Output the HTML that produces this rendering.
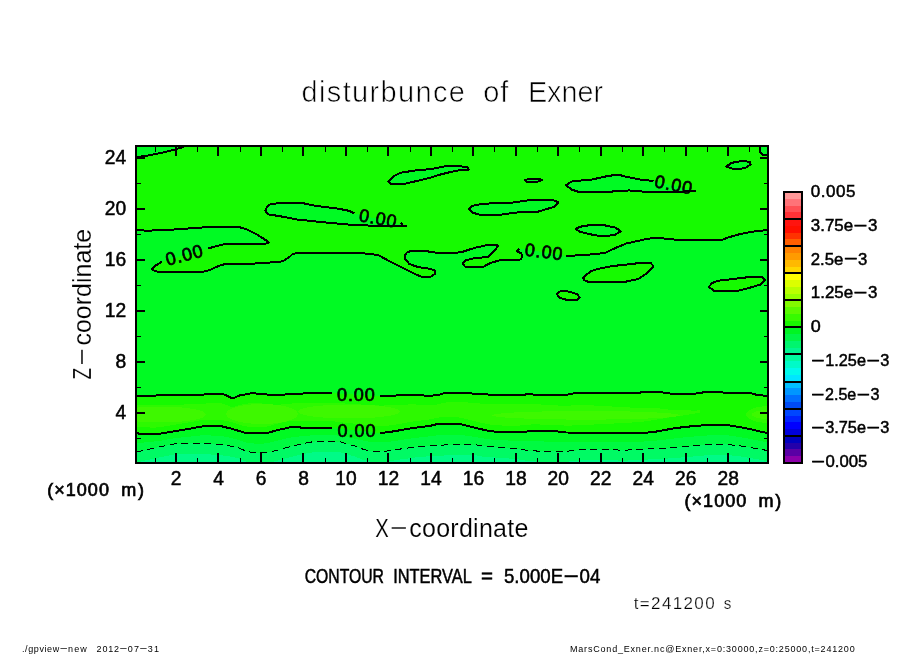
<!DOCTYPE html>
<html lang="en"><head><meta charset="utf-8"><title>disturbunce of Exner</title>
<style>
html,body{margin:0;padding:0;background:#fff;}
body{width:904px;height:654px;position:relative;overflow:hidden;font-family:"Liberation Sans",Arial,sans-serif;}
</style></head><body>
<svg width="904" height="654" viewBox="0 0 904 654" style="position:absolute;left:0;top:0;will-change:transform">
<defs><clipPath id="pc"><rect x="136" y="146" width="632" height="317"/></clipPath></defs>
<g clip-path="url(#pc)" shape-rendering="crispEdges">
<rect x="136" y="146" width="632" height="317" fill="#00fa23"/>
<path d="M136.0,230.3 L147.7,230.6 L161.9,230.3 L188.4,228.5 L200.8,227.6 L213.2,226.7 L238.0,226.7 L246.8,229.4 L257.4,234.7 L266.0,240.3 L268.5,242.6 L266.0,243.5 L236.2,243.5 L225.6,243.9 L215.0,246.5 L207.9,248.6 L161.9,261.8 L154.8,266.0 L152.1,269.2 L154.8,271.0 L161.9,272.4 L200.8,272.4 L209.6,270.1 L218.5,266.0 L225.6,263.9 L253.9,263.6 L275.1,262.2 L280.0,261.8 L284.0,260.4 L287.0,258.6 L290.0,256.5 L292.4,254.2 L297.7,252.8 L356.1,252.8 L368.5,253.8 L378.2,255.1 L389.7,261.3 L403.9,268.4 L414.5,273.7 L421.6,276.9 L430.4,276.9 L435.4,273.7 L435.4,270.7 L430.4,268.9 L418.0,267.1 L409.2,263.9 L404.8,258.6 L404.8,255.1 L407.4,252.1 L412.7,250.7 L423.4,250.7 L434.0,252.4 L440.6,253.3 L453.0,253.3 L463.6,251.5 L474.2,248.0 L488.4,244.8 L497.3,244.5 L498.1,246.2 L491.9,253.3 L488.4,256.9 L474.2,258.3 L465.4,260.4 L462.7,263.9 L465.4,266.9 L483.1,266.9 L490.2,263.1 L500.8,260.0 L520.3,259.5 L522.4,256.9 L521.2,253.3 L516.7,251.2 L519.4,248.4 L566.3,256.0 L576.9,255.4 L590.0,254.5 L594.2,254.2 L604.8,253.0 L615.4,248.0 L626.0,243.6 L645.5,239.2 L656.1,237.7 L666.7,238.8 L679.1,240.0 L721.6,240.0 L726.9,237.9 L736.7,234.9 L751.4,231.7 L761.2,231.0 L768.0,229.3 L768.0,146.0 L136.0,146.0Z" fill="#16fa00"/>
<path d="M136.0,156.8 L144.2,156.3 L153.0,154.5 L165.4,152.0 L176.0,149.2 L183.0,147.0 L185.5,146.0 L136.0,146.0Z" fill="#00fa23"/>
<path d="M760.4,146.0 L760.4,152.2 L763.6,155.2 L768.0,155.2 L768.0,146.0Z" fill="#00fa23"/>
<path d="M406.5,225.8 L386.2,225.8 L356.1,225.3 L324.2,222.3 L297.7,219.6 L280.4,216.3 L268.0,214.3 L265.4,210.8 L267.0,207.0 L269.8,204.6 L280.4,202.8 L301.2,202.8 L315.4,205.8 L338.4,208.7 L349.0,210.8 L354.3,213.5Z" fill="#00fa23"/>
<path d="M388.3,181.6 L393.3,176.3 L400.4,172.7 L418.0,170.1 L430.0,169.2 L444.2,166.5 L456.5,165.7 L468.0,167.4 L468.6,169.7 L458.3,170.4 L447.7,172.7 L437.0,175.4 L432.2,177.2 L418.0,180.7 L403.9,183.9 L391.5,184.2Z" fill="#00fa23"/>
<path d="M524.7,180.4 L529.1,178.6 L538.0,178.6 L542.4,179.8 L536.2,182.1 L527.3,182.1Z" fill="#00fa23"/>
<path d="M469.3,209.0 L472.5,205.8 L483.1,203.7 L511.4,202.8 L529.1,200.2 L552.1,199.8 L558.3,202.3 L553.9,206.9 L538.0,211.7 L515.0,212.6 L500.8,214.7 L481.3,215.2 L472.5,212.6Z" fill="#00fa23"/>
<path d="M696.0,191.3 L659.6,191.9 L633.1,191.3 L629.6,190.4 L606.5,191.9 L590.0,192.2 L578.7,191.9 L571.6,189.6 L565.9,185.1 L571.6,181.6 L582.2,180.4 L590.6,179.8 L606.5,176.3 L618.0,174.5 L624.2,176.3 L638.4,179.3 L653.5,181.1Z" fill="#00fa23"/>
<path d="M575.5,229.0 L580.4,226.7 L590.6,225.0 L603.0,225.0 L615.4,227.6 L620.7,231.2 L615.4,234.7 L603.0,236.5 L592.4,234.7 L580.4,232.0Z" fill="#00fa23"/>
<path d="M726.4,166.4 L731.8,162.8 L742.8,160.8 L750.2,162.0 L750.6,164.5 L745.3,168.1 L734.3,169.4Z" fill="#00fa23"/>
<path d="M556.5,294.0 L561.0,290.8 L568.0,291.4 L576.9,294.0 L579.6,297.6 L576.9,300.2 L568.0,300.2 L560.1,297.9Z" fill="#16fa00"/>
<path d="M583.2,278.1 L586.6,274.6 L590.6,271.4 L597.7,268.9 L611.9,266.1 L633.1,263.9 L641.9,262.5 L650.8,263.1 L653.5,266.1 L647.3,272.8 L638.4,279.0 L624.2,282.0 L588.8,282.0 L584.4,280.2Z" fill="#16fa00"/>
<path d="M709.0,286.8 L711.9,283.1 L718.0,280.8 L734.0,278.9 L753.8,276.5 L762.4,277.0 L765.3,279.9 L761.2,284.3 L748.9,288.0 L736.7,291.2 L714.7,291.5Z" fill="#16fa00"/>
<path d="M136.0,395.9 L161.9,395.4 L195.5,394.8 L204.3,394.5 L207.9,393.6 L222.0,393.6 L226.5,395.4 L230.9,397.7 L234.4,397.7 L239.7,395.4 L252.1,393.2 L257.4,393.6 L276.9,395.4 L288.8,394.1 L310.0,393.2 L332.2,393.2 L380.0,396.2 L386.2,395.9 L412.7,394.8 L430.4,395.9 L438.8,394.8 L445.9,392.7 L467.2,392.7 L472.5,393.6 L488.4,394.5 L525.6,394.5 L529.1,393.6 L532.7,394.5 L568.1,394.5 L576.9,392.7 L639.7,392.7 L644.2,391.6 L657.4,391.6 L671.8,393.8 L695.0,393.8 L699.5,392.7 L717.2,391.6 L723.8,392.7 L750.4,393.1 L757.0,394.9 L768.0,396.0 L768.0,433.0 L759.2,431.4 L750.4,429.2 L739.3,427.0 L726.0,424.8 L712.7,424.8 L695.0,425.9 L675.1,428.1 L657.4,431.4 L644.2,433.0 L590.0,432.7 L566.3,432.5 L552.1,430.8 L529.1,430.8 L525.6,432.0 L497.3,432.0 L488.4,430.8 L476.0,428.1 L465.4,425.4 L458.3,423.7 L438.8,423.7 L430.4,425.8 L412.7,428.1 L389.7,432.0 L380.0,433.1 L332.2,427.7 L306.5,427.7 L290.6,427.2 L276.9,430.2 L266.3,433.4 L246.8,433.4 L232.7,429.0 L220.3,426.0 L204.3,426.0 L188.4,429.0 L172.5,431.6 L156.5,434.3 L136.0,433.4Z" fill="#16fa00"/>
<path d="M136.0,405.4 L142.0,405.3 L148.0,405.2 L154.0,405.1 L160.0,404.9 L166.0,404.8 L172.0,404.7 L178.0,404.6 L184.0,404.5 L190.0,404.4 L196.0,404.3 L202.0,404.1 L208.0,403.1 L214.0,403.1 L220.0,403.1 L226.0,404.7 L232.0,407.2 L238.0,405.6 L244.0,404.1 L250.0,403.1 L256.0,403.0 L262.0,403.5 L268.0,404.1 L274.0,404.6 L280.0,404.6 L286.0,403.9 L292.0,403.5 L298.0,403.2 L304.0,403.0 L310.0,402.7 L316.0,402.7 L322.0,402.7 L328.0,402.7 L334.0,402.8 L340.0,403.2 L346.0,403.6 L352.0,403.9 L358.0,404.3 L364.0,404.7 L370.0,405.1 L376.0,405.4 L382.0,405.6 L388.0,405.3 L394.0,405.1 L400.0,404.8 L406.0,404.6 L412.0,404.3 L418.0,404.6 L424.0,405.0 L430.0,405.4 L436.0,404.7 L442.0,403.4 L448.0,402.2 L454.0,402.2 L460.0,402.2 L466.0,402.2 L472.0,403.0 L478.0,403.4 L484.0,403.8 L490.0,404.0 L496.0,404.0 L502.0,404.0 L508.0,404.0 L514.0,404.0 L520.0,404.0 L526.0,403.9 L532.0,403.8 L538.0,404.0 L544.0,404.9 L550.0,405.2 L556.0,405.4 L562.0,405.7 L568.0,406.0 L574.0,405.1 L580.0,404.8 L586.0,405.1 L592.0,405.4 L598.0,405.8 L604.0,406.1 L610.0,406.4 L616.0,406.7 L622.0,407.1 L628.0,407.4 L634.0,407.8 L640.0,408.1 L646.0,407.7 L652.0,407.9 L658.0,408.2 L664.0,409.0 L670.0,409.7 L676.0,410.0 L682.0,410.2 L688.0,410.4 L694.0,410.6 L700.0,410.4 L700.0,412.5 L694.0,413.8 L688.0,414.7 L682.0,415.6 L676.0,416.4 L670.0,417.4 L664.0,418.4 L658.0,419.3 L652.0,420.3 L646.0,421.3 L640.0,422.1 L634.0,422.4 L628.0,422.8 L622.0,423.1 L616.0,423.4 L610.0,423.7 L604.0,424.0 L598.0,424.3 L592.0,424.6 L586.0,424.8 L580.0,425.1 L574.0,425.4 L568.0,425.7 L562.0,425.4 L556.0,425.0 L550.0,424.7 L544.0,425.0 L538.0,424.3 L532.0,424.3 L526.0,425.4 L520.0,425.5 L514.0,425.5 L508.0,425.5 L502.0,425.5 L496.0,425.3 L490.0,424.5 L484.0,423.3 L478.0,422.0 L472.0,420.6 L466.0,419.1 L460.0,417.6 L454.0,417.2 L448.0,417.2 L442.0,417.2 L436.0,417.9 L430.0,419.4 L424.0,420.1 L418.0,420.9 L412.0,421.7 L406.0,422.7 L400.0,423.8 L394.0,424.8 L388.0,425.7 L382.0,426.4 L376.0,426.1 L370.0,425.5 L364.0,424.8 L358.0,424.1 L352.0,423.4 L346.0,422.8 L340.0,422.1 L334.0,421.4 L328.0,421.2 L322.0,421.2 L316.0,421.2 L310.0,421.2 L304.0,421.1 L298.0,420.9 L292.0,420.7 L286.0,421.7 L280.0,423.0 L274.0,424.6 L268.0,426.4 L262.0,426.9 L256.0,426.9 L250.0,426.9 L244.0,426.0 L238.0,424.2 L232.0,422.3 L226.0,420.9 L220.0,419.5 L214.0,419.5 L208.0,419.5 L202.0,419.9 L196.0,421.1 L190.0,422.2 L184.0,423.2 L178.0,424.2 L172.0,425.2 L166.0,426.2 L160.0,427.2 L154.0,427.7 L148.0,427.4 L142.0,427.2 L136.0,426.9Z" fill="#2df900"/>
<ellipse cx="770" cy="414.5" rx="24" ry="8.5" fill="#2df900"/>
<ellipse cx="160.0" cy="414.5" rx="46.0" ry="8.0" fill="#3ef800"/>
<ellipse cx="262.0" cy="414.0" rx="36.0" ry="10.0" fill="#3ef800"/>
<ellipse cx="349.0" cy="411.5" rx="51.0" ry="7.0" fill="#3ef800"/>
<ellipse cx="586.0" cy="415.3" rx="94.0" ry="4.3" fill="#3ef800"/>
<ellipse cx="768.0" cy="414.5" rx="16.0" ry="4.5" fill="#3ef800"/>
<path d="M136.0,443.2 L144.0,442.5 L152.0,441.8 L160.0,440.8 L168.0,439.3 L176.0,438.0 L184.0,437.2 L192.0,436.4 L200.0,435.5 L208.0,435.4 L216.0,435.7 L224.0,436.5 L232.0,438.1 L240.0,440.4 L248.0,443.0 L256.0,443.7 L264.0,443.6 L272.0,442.1 L280.0,440.0 L288.0,438.0 L296.0,436.8 L304.0,436.0 L312.0,435.3 L320.0,435.0 L328.0,435.0 L336.0,435.4 L344.0,436.5 L352.0,438.1 L360.0,439.9 L368.0,441.6 L376.0,442.5 L384.0,442.4 L392.0,441.4 L400.0,440.2 L408.0,438.9 L416.0,437.8 L424.0,436.9 L432.0,436.1 L440.0,435.0 L448.0,434.7 L456.0,434.7 L464.0,435.4 L472.0,436.5 L480.0,437.8 L488.0,439.2 L496.0,440.0 L504.0,440.3 L512.0,440.7 L520.0,441.1 L528.0,441.4 L536.0,441.4 L544.0,441.5 L552.0,441.6 L560.0,442.0 L568.0,442.3 L576.0,442.1 L584.0,441.5 L592.0,441.5 L600.0,441.6 L608.0,441.8 L616.0,441.9 L624.0,442.0 L632.0,441.9 L640.0,441.7 L648.0,441.3 L656.0,440.6 L664.0,439.7 L672.0,438.7 L680.0,437.8 L688.0,437.0 L696.0,436.3 L704.0,435.7 L712.0,435.1 L720.0,435.0 L728.0,435.4 L736.0,436.5 L744.0,437.8 L752.0,439.3 L760.0,440.9 L768.0,442.3 L768.0,442.3 L768.0,470.0 L136.0,470.0Z" fill="#00fa41"/>
<path d="M136.0,452.0 L156.5,447.6 L174.2,444.0 L200.8,443.1 L227.3,445.4 L238.0,447.6 L246.8,451.5 L257.4,453.2 L268.0,452.5 L280.4,449.3 L290.0,446.7 L306.5,442.8 L315.4,441.4 L333.1,441.4 L340.2,441.9 L354.3,445.8 L363.2,449.3 L372.0,451.5 L386.2,451.1 L403.9,448.5 L421.6,446.2 L440.0,445.4 L447.7,444.6 L476.0,444.9 L483.1,446.3 L504.3,447.6 L522.0,449.3 L529.1,450.8 L553.9,451.5 L575.1,450.8 L582.2,449.3 L590.0,449.2 L624.2,450.2 L646.4,449.1 L668.5,448.0 L690.6,446.2 L712.7,444.2 L723.8,444.2 L739.3,445.8 L752.6,448.0 L768.0,450.6 L768.0,470.0 L136.0,470.0Z" fill="#00fa64"/>
<path d="M136.0,462.5 L156.5,458.1 L174.2,454.5 L200.8,453.6 L227.3,455.9 L238.0,458.1 L246.8,462.0 L257.4,463.7 L268.0,463.0 L280.4,459.8 L290.0,457.2 L306.5,453.3 L315.4,451.9 L333.1,451.9 L340.2,452.4 L354.3,456.3 L363.2,459.8 L372.0,462.0 L386.2,461.6 L403.9,459.0 L421.6,456.7 L440.0,455.9 L447.7,455.1 L476.0,455.4 L483.1,456.8 L504.3,458.1 L522.0,459.8 L529.1,461.3 L553.9,462.0 L575.1,461.3 L582.2,459.8 L590.0,459.7 L624.2,460.7 L646.4,459.6 L668.5,458.5 L690.6,456.7 L712.7,454.7 L723.8,454.7 L739.3,456.3 L752.6,458.5 L768.0,461.1 L768.0,470.0 L136.0,470.0Z" fill="#00fa87"/>
</g>
<g clip-path="url(#pc)" fill="none" stroke="#000" stroke-width="2" stroke-linejoin="round" stroke-linecap="butt" shape-rendering="crispEdges">
<path d="M136.0,230.3 L147.7,230.6 L161.9,230.3 L188.4,228.5 L200.8,227.6 L213.2,226.7 L238.0,226.7 L246.8,229.4 L257.4,234.7 L266.0,240.3 L268.5,242.6 L266.0,243.5 L236.2,243.5 L225.6,243.9 L215.0,246.5 L207.9,248.6"/>
<path d="M161.9,261.8 L154.8,266.0 L152.1,269.2 L154.8,271.0 L161.9,272.4 L200.8,272.4 L209.6,270.1 L218.5,266.0 L225.6,263.9 L253.9,263.6 L275.1,262.2 L280.0,261.8 L284.0,260.4 L287.0,258.6 L290.0,256.5 L292.4,254.2 L297.7,252.8 L356.1,252.8 L368.5,253.8 L378.2,255.1 L389.7,261.3 L403.9,268.4 L414.5,273.7 L421.6,276.9 L430.4,276.9 L435.4,273.7 L435.4,270.7 L430.4,268.9 L418.0,267.1 L409.2,263.9 L404.8,258.6 L404.8,255.1 L407.4,252.1 L412.7,250.7 L423.4,250.7 L434.0,252.4 L440.6,253.3 L453.0,253.3 L463.6,251.5 L474.2,248.0 L488.4,244.8 L497.3,244.5 L498.1,246.2 L491.9,253.3 L488.4,256.9 L474.2,258.3 L465.4,260.4 L462.7,263.9 L465.4,266.9 L483.1,266.9 L490.2,263.1 L500.8,260.0 L520.3,259.5 L522.4,256.9 L521.2,253.3 L516.7,251.2 L519.4,248.4"/>
<path d="M566.3,256.0 L576.9,255.4 L590.0,254.5 L594.2,254.2 L604.8,253.0 L615.4,248.0 L626.0,243.6 L645.5,239.2 L656.1,237.7 L666.7,238.8 L679.1,240.0 L721.6,240.0 L726.9,237.9 L736.7,234.9 L751.4,231.7 L761.2,231.0 L768.0,229.3"/>
<path d="M136.0,156.8 L144.2,156.3 L153.0,154.5 L165.4,152.0 L176.0,149.2 L183.0,147.0 L185.5,146.0"/>
<path d="M760.4,146.0 L760.4,152.2 L763.6,155.2 L768.0,155.2"/>
<path d="M136.0,395.9 L161.9,395.4 L195.5,394.8 L204.3,394.5 L207.9,393.6 L222.0,393.6 L226.5,395.4 L230.9,397.7 L234.4,397.7 L239.7,395.4 L252.1,393.2 L257.4,393.6 L276.9,395.4 L288.8,394.1 L310.0,393.2 L332.2,393.2"/>
<path d="M380.0,396.2 L386.2,395.9 L412.7,394.8 L430.4,395.9 L438.8,394.8 L445.9,392.7 L467.2,392.7 L472.5,393.6 L488.4,394.5 L525.6,394.5 L529.1,393.6 L532.7,394.5 L568.1,394.5 L576.9,392.7 L639.7,392.7 L644.2,391.6 L657.4,391.6 L671.8,393.8 L695.0,393.8 L699.5,392.7 L717.2,391.6 L723.8,392.7 L750.4,393.1 L757.0,394.9 L768.0,396.0"/>
<path d="M136.0,433.4 L156.5,434.3 L172.5,431.6 L188.4,429.0 L204.3,426.0 L220.3,426.0 L232.7,429.0 L246.8,433.4 L266.3,433.4 L276.9,430.2 L290.6,427.2 L306.5,427.7 L332.2,427.7"/>
<path d="M380.0,433.1 L389.7,432.0 L412.7,428.1 L430.4,425.8 L438.8,423.7 L458.3,423.7 L465.4,425.4 L476.0,428.1 L488.4,430.8 L497.3,432.0 L525.6,432.0 L529.1,430.8 L552.1,430.8 L566.3,432.5 L590.0,432.7 L644.2,433.0 L657.4,431.4 L675.1,428.1 L695.0,425.9 L712.7,424.8 L726.0,424.8 L739.3,427.0 L750.4,429.2 L759.2,431.4 L768.0,433.0"/>
<path d="M406.5,225.8 L386.2,225.8 L356.1,225.3 L324.2,222.3 L297.7,219.6 L280.4,216.3 L268.0,214.3 L265.4,210.8 L267.0,207.0 L269.8,204.6 L280.4,202.8 L301.2,202.8 L315.4,205.8 L338.4,208.7 L349.0,210.8 L354.3,213.5"/>
<path d="M696.0,191.3 L659.6,191.9 L633.1,191.3 L629.6,190.4 L606.5,191.9 L590.0,192.2 L578.7,191.9 L571.6,189.6 L565.9,185.1 L571.6,181.6 L582.2,180.4 L590.6,179.8 L606.5,176.3 L618.0,174.5 L624.2,176.3 L638.4,179.3 L653.5,181.1"/>
<path d="M400.6,222.6 L402.8,224.6"/>
<path d="M388.3,181.6 L393.3,176.3 L400.4,172.7 L418.0,170.1 L430.0,169.2 L444.2,166.5 L456.5,165.7 L468.0,167.4 L468.6,169.7 L458.3,170.4 L447.7,172.7 L437.0,175.4 L432.2,177.2 L418.0,180.7 L403.9,183.9 L391.5,184.2Z"/>
<path d="M524.7,180.4 L529.1,178.6 L538.0,178.6 L542.4,179.8 L536.2,182.1 L527.3,182.1Z"/>
<path d="M469.3,209.0 L472.5,205.8 L483.1,203.7 L511.4,202.8 L529.1,200.2 L552.1,199.8 L558.3,202.3 L553.9,206.9 L538.0,211.7 L515.0,212.6 L500.8,214.7 L481.3,215.2 L472.5,212.6Z"/>
<path d="M575.5,229.0 L580.4,226.7 L590.6,225.0 L603.0,225.0 L615.4,227.6 L620.7,231.2 L615.4,234.7 L603.0,236.5 L592.4,234.7 L580.4,232.0Z"/>
<path d="M726.4,166.4 L731.8,162.8 L742.8,160.8 L750.2,162.0 L750.6,164.5 L745.3,168.1 L734.3,169.4Z"/>
<path d="M556.5,294.0 L561.0,290.8 L568.0,291.4 L576.9,294.0 L579.6,297.6 L576.9,300.2 L568.0,300.2 L560.1,297.9Z"/>
<path d="M583.2,278.1 L586.6,274.6 L590.6,271.4 L597.7,268.9 L611.9,266.1 L633.1,263.9 L641.9,262.5 L650.8,263.1 L653.5,266.1 L647.3,272.8 L638.4,279.0 L624.2,282.0 L588.8,282.0 L584.4,280.2Z"/>
<path d="M709.0,286.8 L711.9,283.1 L718.0,280.8 L734.0,278.9 L753.8,276.5 L762.4,277.0 L765.3,279.9 L761.2,284.3 L748.9,288.0 L736.7,291.2 L714.7,291.5Z"/>
<path d="M136.0,452.0 L156.5,447.6 L174.2,444.0 L200.8,443.1 L227.3,445.4 L238.0,447.6 L246.8,451.5 L257.4,453.2 L268.0,452.5 L280.4,449.3 L290.0,446.7 L306.5,442.8 L315.4,441.4 L333.1,441.4 L340.2,441.9 L354.3,445.8 L363.2,449.3 L372.0,451.5 L386.2,451.1 L403.9,448.5 L421.6,446.2 L440.0,445.4 L447.7,444.6 L476.0,444.9 L483.1,446.3 L504.3,447.6 L522.0,449.3 L529.1,450.8 L553.9,451.5 L575.1,450.8 L582.2,449.3 L590.0,449.2 L624.2,450.2 L646.4,449.1 L668.5,448.0 L690.6,446.2 L712.7,444.2 L723.8,444.2 L739.3,445.8 L752.6,448.0 L768.0,450.6" stroke-width="1" stroke-dasharray="7 4.5"/>
</g>
<g stroke="#000" fill="none" shape-rendering="crispEdges">
<path d="M155.5,146 v5.5 M155.5,463 v-5.5" stroke-width="1"/>
<path d="M176,146 v10 M176,463 v-10" stroke-width="2"/>
<path d="M197.5,146 v5.5 M197.5,463 v-5.5" stroke-width="1"/>
<path d="M218,146 v10 M218,463 v-10" stroke-width="2"/>
<path d="M240.5,146 v5.5 M240.5,463 v-5.5" stroke-width="1"/>
<path d="M261,146 v10 M261,463 v-10" stroke-width="2"/>
<path d="M282.5,146 v5.5 M282.5,463 v-5.5" stroke-width="1"/>
<path d="M303,146 v10 M303,463 v-10" stroke-width="2"/>
<path d="M325.5,146 v5.5 M325.5,463 v-5.5" stroke-width="1"/>
<path d="M346,146 v10 M346,463 v-10" stroke-width="2"/>
<path d="M367.5,146 v5.5 M367.5,463 v-5.5" stroke-width="1"/>
<path d="M388,146 v10 M388,463 v-10" stroke-width="2"/>
<path d="M410.5,146 v5.5 M410.5,463 v-5.5" stroke-width="1"/>
<path d="M431,146 v10 M431,463 v-10" stroke-width="2"/>
<path d="M452.5,146 v5.5 M452.5,463 v-5.5" stroke-width="1"/>
<path d="M473,146 v10 M473,463 v-10" stroke-width="2"/>
<path d="M494.5,146 v5.5 M494.5,463 v-5.5" stroke-width="1"/>
<path d="M516,146 v10 M516,463 v-10" stroke-width="2"/>
<path d="M537.5,146 v5.5 M537.5,463 v-5.5" stroke-width="1"/>
<path d="M558,146 v10 M558,463 v-10" stroke-width="2"/>
<path d="M579.5,146 v5.5 M579.5,463 v-5.5" stroke-width="1"/>
<path d="M601,146 v10 M601,463 v-10" stroke-width="2"/>
<path d="M622.5,146 v5.5 M622.5,463 v-5.5" stroke-width="1"/>
<path d="M643,146 v10 M643,463 v-10" stroke-width="2"/>
<path d="M664.5,146 v5.5 M664.5,463 v-5.5" stroke-width="1"/>
<path d="M686,146 v10 M686,463 v-10" stroke-width="2"/>
<path d="M707.5,146 v5.5 M707.5,463 v-5.5" stroke-width="1"/>
<path d="M728,146 v10 M728,463 v-10" stroke-width="2"/>
<path d="M749.5,146 v5.5 M749.5,463 v-5.5" stroke-width="1"/>
<path d="M136,438.5 h5 M768,438.5 h-4.5" stroke-width="1"/>
<path d="M136,413 h9 M768,413 h-8.5" stroke-width="2"/>
<path d="M136,387.5 h5 M768,387.5 h-4.5" stroke-width="1"/>
<path d="M136,362 h9 M768,362 h-8.5" stroke-width="2"/>
<path d="M136,336.5 h5 M768,336.5 h-4.5" stroke-width="1"/>
<path d="M136,311 h9 M768,311 h-8.5" stroke-width="2"/>
<path d="M136,285.5 h5 M768,285.5 h-4.5" stroke-width="1"/>
<path d="M136,260 h9 M768,260 h-8.5" stroke-width="2"/>
<path d="M136,234.5 h5 M768,234.5 h-4.5" stroke-width="1"/>
<path d="M136,209 h9 M768,209 h-8.5" stroke-width="2"/>
<path d="M136,183.5 h5 M768,183.5 h-4.5" stroke-width="1"/>
<path d="M136,158 h9 M768,158 h-8.5" stroke-width="2"/>
<rect x="136" y="146" width="632" height="317" stroke-width="2"/>
</g>
<g shape-rendering="crispEdges">
<rect x="784" y="192.00" width="18" height="7.08" fill="#ff9898"/>
<rect x="784" y="198.78" width="18" height="7.08" fill="#ff7378"/>
<rect x="784" y="205.55" width="18" height="7.07" fill="#ff5055"/>
<rect x="784" y="212.32" width="18" height="7.08" fill="#ff3237"/>
<rect x="784" y="219.10" width="18" height="7.08" fill="#ff140f"/>
<rect x="784" y="225.88" width="18" height="7.08" fill="#ff0f00"/>
<rect x="784" y="232.65" width="18" height="7.08" fill="#ff3200"/>
<rect x="784" y="239.43" width="18" height="7.07" fill="#ff5f00"/>
<rect x="784" y="246.20" width="18" height="7.08" fill="#ff8200"/>
<rect x="784" y="252.97" width="18" height="7.08" fill="#ff9b00"/>
<rect x="784" y="259.75" width="18" height="7.07" fill="#ffb900"/>
<rect x="784" y="266.52" width="18" height="7.08" fill="#ffd700"/>
<rect x="784" y="273.30" width="18" height="7.07" fill="#ffff00"/>
<rect x="784" y="280.07" width="18" height="7.08" fill="#dcff00"/>
<rect x="784" y="286.85" width="18" height="7.07" fill="#b9ff00"/>
<rect x="784" y="293.62" width="18" height="7.07" fill="#96ff00"/>
<rect x="784" y="300.40" width="18" height="7.08" fill="#82fa00"/>
<rect x="784" y="307.18" width="18" height="7.07" fill="#5afa00"/>
<rect x="784" y="313.95" width="18" height="7.08" fill="#37fa00"/>
<rect x="784" y="320.73" width="18" height="7.07" fill="#19f500"/>
<rect x="784" y="327.50" width="18" height="7.07" fill="#00f523"/>
<rect x="784" y="334.27" width="18" height="7.08" fill="#00f546"/>
<rect x="784" y="341.05" width="18" height="7.08" fill="#00f56e"/>
<rect x="784" y="347.83" width="18" height="7.07" fill="#00f591"/>
<rect x="784" y="354.60" width="18" height="7.07" fill="#00faa0"/>
<rect x="784" y="361.38" width="18" height="7.07" fill="#00fac8"/>
<rect x="784" y="368.15" width="18" height="7.08" fill="#00faeb"/>
<rect x="784" y="374.93" width="18" height="7.08" fill="#00e6ff"/>
<rect x="784" y="381.70" width="18" height="7.07" fill="#00beff"/>
<rect x="784" y="388.48" width="18" height="7.07" fill="#0096ff"/>
<rect x="784" y="395.25" width="18" height="7.07" fill="#006eff"/>
<rect x="784" y="402.02" width="18" height="7.08" fill="#004bf5"/>
<rect x="784" y="408.80" width="18" height="7.08" fill="#0046ff"/>
<rect x="784" y="415.58" width="18" height="7.07" fill="#0023ff"/>
<rect x="784" y="422.35" width="18" height="7.07" fill="#0000ff"/>
<rect x="784" y="429.12" width="18" height="7.07" fill="#0000dc"/>
<rect x="784" y="435.90" width="18" height="7.08" fill="#0000be"/>
<rect x="784" y="442.68" width="18" height="7.07" fill="#2300aa"/>
<rect x="784" y="449.45" width="18" height="7.08" fill="#5a00a5"/>
<rect x="784" y="456.23" width="18" height="7.07" fill="#8c00aa"/>
<g stroke="#000" stroke-width="2" fill="none">
<path d="M784,219 H802"/>
<path d="M784,246 H802"/>
<path d="M784,273 H802"/>
<path d="M784,300 H802"/>
<path d="M784,327 H802"/>
<path d="M784,354 H802"/>
<path d="M784,382 H802"/>
<path d="M784,409 H802"/>
<path d="M784,436 H802"/>
<rect x="784" y="192" width="18" height="271"/>
</g></g>
<g font-family="Liberation Sans, Arial, sans-serif" fill="#000">
<text y="101.8" font-size="29.0" stroke="#fff" stroke-width="0.65"><tspan x="301.5" textLength="163.5" lengthAdjust="spacing">disturbunce</tspan> <tspan x="483.3" textLength="25.1" lengthAdjust="spacing">of</tspan> <tspan x="527.9" textLength="75.2" lengthAdjust="spacingAndGlyphs">Exner</tspan></text>
<text y="419.3" font-size="19.5" stroke="#000" stroke-width="0.5"><tspan x="115.5" textLength="10.7" lengthAdjust="spacingAndGlyphs">4</tspan></text>
<text y="368.3" font-size="19.5" stroke="#000" stroke-width="0.5"><tspan x="115.5" textLength="10.7" lengthAdjust="spacingAndGlyphs">8</tspan></text>
<text y="317.3" font-size="19.5" stroke="#000" stroke-width="0.5"><tspan x="104.8" textLength="21.4" lengthAdjust="spacingAndGlyphs">12</tspan></text>
<text y="266.3" font-size="19.5" stroke="#000" stroke-width="0.5"><tspan x="104.8" textLength="21.4" lengthAdjust="spacingAndGlyphs">16</tspan></text>
<text y="215.3" font-size="19.5" stroke="#000" stroke-width="0.5"><tspan x="104.8" textLength="21.4" lengthAdjust="spacingAndGlyphs">20</tspan></text>
<text y="164.3" font-size="19.5" stroke="#000" stroke-width="0.5"><tspan x="104.8" textLength="21.4" lengthAdjust="spacingAndGlyphs">24</tspan></text>
<text y="485.0" font-size="19.5" stroke="#000" stroke-width="0.5"><tspan x="170.8" textLength="10.7" lengthAdjust="spacingAndGlyphs">2</tspan></text>
<text y="485.0" font-size="19.5" stroke="#000" stroke-width="0.5"><tspan x="213.3" textLength="10.7" lengthAdjust="spacingAndGlyphs">4</tspan></text>
<text y="485.0" font-size="19.5" stroke="#000" stroke-width="0.5"><tspan x="255.8" textLength="10.7" lengthAdjust="spacingAndGlyphs">6</tspan></text>
<text y="485.0" font-size="19.5" stroke="#000" stroke-width="0.5"><tspan x="298.2" textLength="10.7" lengthAdjust="spacingAndGlyphs">8</tspan></text>
<text y="485.0" font-size="19.5" stroke="#000" stroke-width="0.5"><tspan x="335.3" textLength="21.4" lengthAdjust="spacingAndGlyphs">10</tspan></text>
<text y="485.0" font-size="19.5" stroke="#000" stroke-width="0.5"><tspan x="377.8" textLength="21.4" lengthAdjust="spacingAndGlyphs">12</tspan></text>
<text y="485.0" font-size="19.5" stroke="#000" stroke-width="0.5"><tspan x="420.3" textLength="21.4" lengthAdjust="spacingAndGlyphs">14</tspan></text>
<text y="485.0" font-size="19.5" stroke="#000" stroke-width="0.5"><tspan x="462.7" textLength="21.4" lengthAdjust="spacingAndGlyphs">16</tspan></text>
<text y="485.0" font-size="19.5" stroke="#000" stroke-width="0.5"><tspan x="505.2" textLength="21.4" lengthAdjust="spacingAndGlyphs">18</tspan></text>
<text y="485.0" font-size="19.5" stroke="#000" stroke-width="0.5"><tspan x="547.6" textLength="21.4" lengthAdjust="spacingAndGlyphs">20</tspan></text>
<text y="485.0" font-size="19.5" stroke="#000" stroke-width="0.5"><tspan x="590.1" textLength="21.4" lengthAdjust="spacingAndGlyphs">22</tspan></text>
<text y="485.0" font-size="19.5" stroke="#000" stroke-width="0.5"><tspan x="632.6" textLength="21.4" lengthAdjust="spacingAndGlyphs">24</tspan></text>
<text y="485.0" font-size="19.5" stroke="#000" stroke-width="0.5"><tspan x="675.0" textLength="21.4" lengthAdjust="spacingAndGlyphs">26</tspan></text>
<text y="485.0" font-size="19.5" stroke="#000" stroke-width="0.5"><tspan x="717.5" textLength="21.4" lengthAdjust="spacingAndGlyphs">28</tspan></text>
<text y="495.8" font-size="18.0" stroke="#000" stroke-width="0.7"><tspan x="47.3" textLength="61.6" lengthAdjust="spacing">(×1000</tspan> <tspan x="121.3" textLength="22.6" lengthAdjust="spacing">m)</tspan></text>
<text y="507.1" font-size="18.0" stroke="#000" stroke-width="0.7"><tspan x="684.6" textLength="61.6" lengthAdjust="spacing">(×1000</tspan> <tspan x="758.6" textLength="22.6" lengthAdjust="spacing">m)</tspan></text>
<text y="536.6" font-size="25.0" stroke="#fff" stroke-width="0.15"><tspan x="375.3" textLength="13.5" lengthAdjust="spacingAndGlyphs">X</tspan><tspan x="388.3" dy="-1.62" stroke="#fff" stroke-width="0.45" textLength="21.0" lengthAdjust="spacingAndGlyphs">-</tspan><tspan x="409.3" dy="1.62" textLength="119.0" lengthAdjust="spacing">coordinate</tspan></text>
<g transform="translate(90.8,379.4) rotate(-90)">
<text y="0.0" font-size="25.0" stroke="#fff" stroke-width="0.15"><tspan x="-0.2" textLength="11.7" lengthAdjust="spacingAndGlyphs">Z</tspan><tspan x="12.0" dy="-1.62" stroke="#fff" stroke-width="0.45" textLength="21.2" lengthAdjust="spacingAndGlyphs">-</tspan><tspan x="33.8" dy="1.62" textLength="116.8" lengthAdjust="spacing">coordinate</tspan></text>
</g>
<text y="582.9" font-size="19.8" stroke="#000" stroke-width="0.5"><tspan x="304.7" textLength="79.3" lengthAdjust="spacingAndGlyphs">CONTOUR</tspan> <tspan x="393.2" textLength="78.0" lengthAdjust="spacingAndGlyphs">INTERVAL</tspan> <tspan x="481.0" textLength="12.0" lengthAdjust="spacingAndGlyphs">=</tspan> <tspan x="504.0" textLength="59.1" lengthAdjust="spacingAndGlyphs">5.000E</tspan><tspan x="563.1" dy="-1.29" textLength="16.4" lengthAdjust="spacingAndGlyphs">-</tspan><tspan x="579.5" dy="1.29" textLength="20.8" lengthAdjust="spacingAndGlyphs">04</tspan></text>
<text y="608.7" font-size="17.0" stroke="#fff" stroke-width="0.25"><tspan x="633.7" textLength="80.9" lengthAdjust="spacing">t=241200</tspan> <tspan x="723.8" textLength="7.6" lengthAdjust="spacingAndGlyphs">s</tspan></text>
<text y="651.9" font-size="9.0" ><tspan x="22.0" textLength="37.2" lengthAdjust="spacing">./gpview</tspan><tspan x="59.2" dy="-0.58" textLength="8.9" lengthAdjust="spacingAndGlyphs">-</tspan><tspan x="68.1" dy="0.58" textLength="18.6" lengthAdjust="spacing">new</tspan> <tspan x="96.6" textLength="22.4" lengthAdjust="spacing">2012</tspan><tspan x="119.0" dy="-0.58" textLength="8.8" lengthAdjust="spacingAndGlyphs">-</tspan><tspan x="127.8" dy="0.58" textLength="11.2" lengthAdjust="spacing">07</tspan><tspan x="139.0" dy="-0.58" textLength="8.8" lengthAdjust="spacingAndGlyphs">-</tspan><tspan x="147.8" dy="0.58" textLength="11.2" lengthAdjust="spacing">31</tspan></text>
<text y="652.3" font-size="9.0" ><tspan x="570.0" textLength="284.7" lengthAdjust="spacing">MarsCond_Exner.nc@Exner,x=0:30000,z=0:25000,t=241200</tspan></text>
<text y="196.9" font-size="17.0" stroke="#000" stroke-width="0.5"><tspan x="810.8" textLength="44.6" lengthAdjust="spacing">0.005</tspan></text>
<text y="230.7" font-size="17.0" stroke="#000" stroke-width="0.5"><tspan x="810.8" textLength="42.3" lengthAdjust="spacingAndGlyphs">3.75e</tspan><tspan x="853.1" dy="-1.10" textLength="14.9" lengthAdjust="spacingAndGlyphs">-</tspan><tspan x="868.0" dy="1.10" textLength="9.4" lengthAdjust="spacingAndGlyphs">3</tspan></text>
<text y="264.5" font-size="17.0" stroke="#000" stroke-width="0.5"><tspan x="810.8" textLength="32.6" lengthAdjust="spacingAndGlyphs">2.5e</tspan><tspan x="843.4" dy="-1.10" textLength="14.7" lengthAdjust="spacingAndGlyphs">-</tspan><tspan x="858.1" dy="1.10" textLength="9.3" lengthAdjust="spacingAndGlyphs">3</tspan></text>
<text y="298.2" font-size="17.0" stroke="#000" stroke-width="0.5"><tspan x="810.8" textLength="42.3" lengthAdjust="spacingAndGlyphs">1.25e</tspan><tspan x="853.1" dy="-1.10" textLength="14.9" lengthAdjust="spacingAndGlyphs">-</tspan><tspan x="868.0" dy="1.10" textLength="9.4" lengthAdjust="spacingAndGlyphs">3</tspan></text>
<text y="332.0" font-size="17.0" stroke="#000" stroke-width="0.5"><tspan x="810.8" textLength="10.0" lengthAdjust="spacingAndGlyphs">0</tspan></text>
<text y="365.8" font-size="17.0" stroke="#000" stroke-width="0.5"><tspan x="810.8" dy="-1.10" textLength="14.4" lengthAdjust="spacingAndGlyphs">-</tspan><tspan x="825.2" dy="1.10" textLength="40.8" lengthAdjust="spacingAndGlyphs">1.25e</tspan><tspan x="866.0" dy="-1.10" textLength="14.4" lengthAdjust="spacingAndGlyphs">-</tspan><tspan x="880.3" dy="1.10" textLength="9.1" lengthAdjust="spacingAndGlyphs">3</tspan></text>
<text y="399.6" font-size="17.0" stroke="#000" stroke-width="0.5"><tspan x="810.8" dy="-1.10" textLength="14.2" lengthAdjust="spacingAndGlyphs">-</tspan><tspan x="825.0" dy="1.10" textLength="31.3" lengthAdjust="spacingAndGlyphs">2.5e</tspan><tspan x="856.3" dy="-1.10" textLength="14.2" lengthAdjust="spacingAndGlyphs">-</tspan><tspan x="870.4" dy="1.10" textLength="9.0" lengthAdjust="spacingAndGlyphs">3</tspan></text>
<text y="433.4" font-size="17.0" stroke="#000" stroke-width="0.5"><tspan x="810.8" dy="-1.10" textLength="14.4" lengthAdjust="spacingAndGlyphs">-</tspan><tspan x="825.2" dy="1.10" textLength="40.8" lengthAdjust="spacingAndGlyphs">3.75e</tspan><tspan x="866.0" dy="-1.10" textLength="14.4" lengthAdjust="spacingAndGlyphs">-</tspan><tspan x="880.3" dy="1.10" textLength="9.1" lengthAdjust="spacingAndGlyphs">3</tspan></text>
<text y="467.1" font-size="17.0" stroke="#000" stroke-width="0.5"><tspan x="810.8" dy="-1.10" textLength="14.7" lengthAdjust="spacingAndGlyphs">-</tspan><tspan x="825.5" dy="1.10" textLength="41.9" lengthAdjust="spacingAndGlyphs">0.005</tspan></text>
<g transform="translate(184.0,254.7) rotate(-15.0)">
<text y="6.5" font-size="18.0" stroke="#000" stroke-width="0.7"><tspan x="-18.9" textLength="37.8" lengthAdjust="spacing">0.00</tspan></text>
</g>
<g transform="translate(378.0,218.0) rotate(10.0)">
<text y="6.5" font-size="18.0" stroke="#000" stroke-width="0.7"><tspan x="-18.9" textLength="37.8" lengthAdjust="spacing">0.00</tspan></text>
</g>
<g transform="translate(673.6,184.4) rotate(11.5)">
<text y="6.5" font-size="18.0" stroke="#000" stroke-width="0.7"><tspan x="-18.9" textLength="37.8" lengthAdjust="spacing">0.00</tspan></text>
</g>
<g transform="translate(543.7,251.4) rotate(7.0)">
<text y="6.5" font-size="18.0" stroke="#000" stroke-width="0.7"><tspan x="-18.9" textLength="37.8" lengthAdjust="spacing">0.00</tspan></text>
</g>
<g transform="translate(355.9,394.4) rotate(0.0)">
<text y="6.5" font-size="18.0" stroke="#000" stroke-width="0.7"><tspan x="-18.9" textLength="37.8" lengthAdjust="spacing">0.00</tspan></text>
</g>
<g transform="translate(356.5,430.0) rotate(0.0)">
<text y="6.5" font-size="18.0" stroke="#000" stroke-width="0.7"><tspan x="-18.9" textLength="37.8" lengthAdjust="spacing">0.00</tspan></text>
</g>
</g>
</svg>
</body></html>
